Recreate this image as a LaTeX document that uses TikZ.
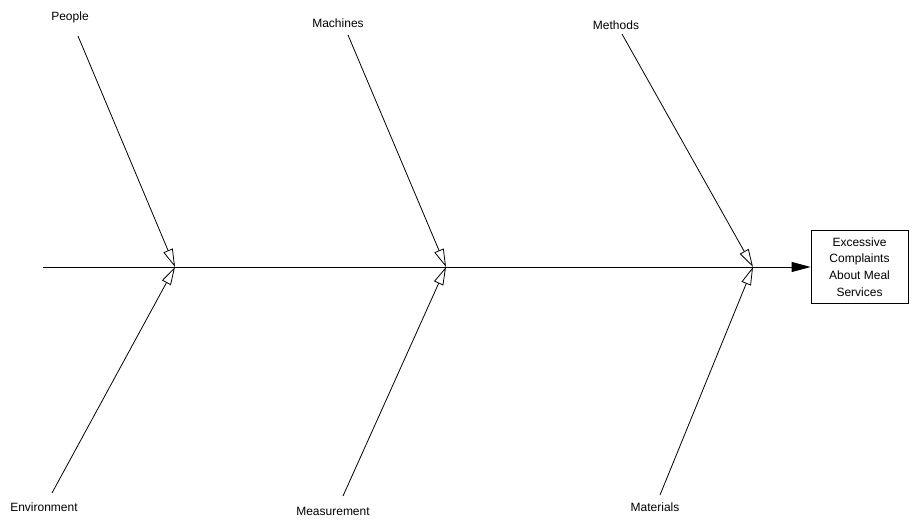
\documentclass[tikz,border=0pt]{standalone}
\usepackage{fontspec}
\setmainfont{Liberation Sans}
\usetikzlibrary{positioning,arrows.meta}

\begin{document}
\begin{tikzpicture}[x=1pt,y=-1pt,line width=0.8pt]
	\tikzset{
	    bone/.style={-{Triangle[open,length=18pt,width=10pt]}},
	    spine/.style={-{Triangle[length=19pt,width=10pt]}},
	    cause/.style={font=\fontsize{12}{14}\selectfont,inner sep=0pt}
	}
	\useasboundingbox (0,0) rectangle (918,529);

	\node[draw,align=center,minimum width=97pt,minimum height=73pt,inner sep=2pt,
	      font=\fontsize{12}{16.7}\selectfont] (effect) at (859.5,267) {Excessive\\Complaints\\About Meal\\Services};

	\coordinate (tail) at (43,267);
	\coordinate (j1) at (175,267);
	\coordinate (j2) at (446,267);
	\coordinate (j3) at (753,267);

	\node[cause] (people) at (70,17) {People};
	\node[cause] (machines) at (338,23) {Machines};
	\node[cause] (methods) at (616,25) {Methods};
	\node[cause] (environment) at (44,507) {Environment};
	\node[cause] (measurement) at (333,511) {Measurement};
	\node[cause] (materials) at (655,507) {Materials};

	\coordinate (p0) at (78,36);
	\coordinate (m0) at (348,35);
	\coordinate (t0) at (622,34);
	\coordinate (e0) at (52,493);
	\coordinate (s0) at (343,496);
	\coordinate (a0) at (660,495);

	\draw[spine] (tail) -- (effect);

	\draw[bone] (p0) -- (j1);
	\draw[bone] (e0) -- (j1);
	\draw[bone] (m0) -- (j2);
	\draw[bone] (s0) -- (j2);
	\draw[bone] (t0) -- (j3);
	\draw[bone] (a0) -- (j3);
\end{tikzpicture}
\end{document}
